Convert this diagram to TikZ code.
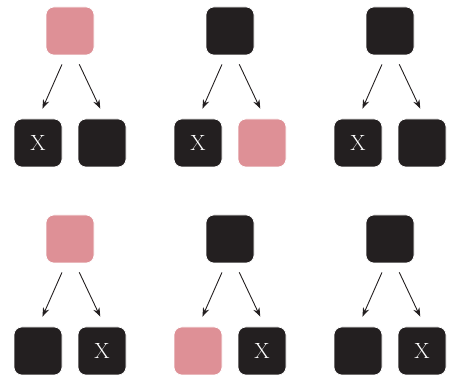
\documentclass[tikz,border=0pt]{standalone}
\usetikzlibrary{arrows.meta}
\definecolor{pinkc}{HTML}{DE9096}
\definecolor{darkc}{HTML}{231F20}
\begin{document}
\begin{tikzpicture}[x=1pt,y=-1pt,
  box/.style={minimum width=48pt,minimum height=48pt,rounded corners=8pt,inner sep=0pt,draw=white,line width=0.6pt},
  pk/.style={box,fill=pinkc},
  dk/.style={box,fill=darkc,text=white,font=\fontsize{22}{24}\selectfont},
  arr/.style={line width=0.9pt,darkc,-{Stealth[length=9pt,width=6.5pt]}}]
\useasboundingbox (0,0) rectangle (451,377);
% top row
\node[pk] (p1) at (70,31) {};
\node[dk] (a1) at (38,143) {X};
\node[dk] (b1) at (102,143) {};
\node[dk] (p2) at (230,31) {};
\node[dk] (a2) at (198,143) {X};
\node[pk] (b2) at (262,143) {};
\node[dk] (p3) at (390,31) {};
\node[dk] (a3) at (358,143) {X};
\node[dk] (b3) at (422,143) {};
% bottom row
\node[pk] (p4) at (70,239) {};
\node[dk] (a4) at (38,351) {};
\node[dk] (b4) at (102,351) {X};
\node[dk] (p5) at (230,239) {};
\node[pk] (a5) at (198,351) {};
\node[dk] (b5) at (262,351) {X};
\node[dk] (p6) at (390,239) {};
\node[dk] (a6) at (358,351) {};
\node[dk] (b6) at (422,351) {X};
\foreach \p/\a/\b in {p1/a1/b1,p2/a2/b2,p3/a3/b3,p4/a4/b4,p5/a5/b5,p6/a6/b6}{
  \draw[arr,shorten <=10pt,shorten >=11pt] ([xshift=-4pt]\p.south) -- (\a.north);
  \draw[arr,shorten <=10pt,shorten >=11pt] ([xshift=5pt]\p.south) -- ([xshift=3pt]\b.north);
}
\end{tikzpicture}
\end{document}
